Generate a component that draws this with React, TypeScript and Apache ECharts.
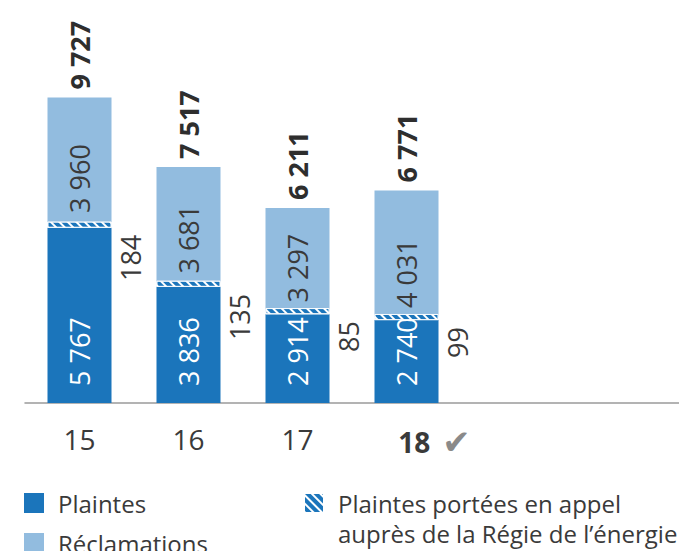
import React, { useEffect, useRef } from "react";
import * as echarts from "echarts";

const categories = ["15", "16", "17", "18"];
const plaintes = [5767, 3836, 2914, 2740];
const appels = [184, 135, 85, 99];
const reclamations = [3960, 3681, 3297, 4031];
const totals = [9727, 7517, 6211, 6771];

const DARK = "#1b75bb";
const LIGHT = "#92bcdf";
const TEXT = "#3a3a3a";
const FONT = '"Open Sans", "Noto Sans", sans-serif';

const NAME_P = "Plaintes";
const NAME_A = "Plaintes portées en appel\nauprès de la Régie de l\u2019énergie";
const NAME_R = "Réclamations";

const fmt = (n: number) => String(n).replace(/\B(?=(\d{3})+(?!\d))/g, " ");

export default function App() {
  const ref = useRef<HTMLDivElement>(null);
  useEffect(() => {
    if (!ref.current) return;
    const chart = echarts.init(ref.current, null, { renderer: "svg" });
    const decal = {
      symbol: "rect",
      symbolSize: 1,
      color: "#ffffff",
      dashArrayX: [1, 0],
      dashArrayY: [1.6, 3.2],
      rotation: Math.PI / 4,
    };
    const baseLabel = {
      show: true,
      rotate: 90,
      fontFamily: FONT,
      fontSize: 27,
      align: "left",
      verticalAlign: "middle",
    };
    const legendBase = {
      icon: "rect",
      itemWidth: 20,
      itemHeight: 20,
      padding: 0,
      selectedMode: false,
      orient: "horizontal",
    };
    chart.setOption({
      animation: false,
      textStyle: { fontFamily: FONT },
      grid: { left: 25, width: 672, top: 89, bottom: 148, containLabel: false },
      legend: [
        {
          ...legendBase,
          data: [NAME_P],
          left: 24,
          top: 491,
          textStyle: { fontSize: 24, color: TEXT, fontFamily: FONT, padding: [0, 0, 0, 9] },
        },
        {
          ...legendBase,
          data: [NAME_R],
          left: 24,
          top: 531,
          textStyle: { fontSize: 24, color: TEXT, fontFamily: FONT, padding: [0, 0, 0, 9] },
        },
        {
          ...legendBase,
          data: [NAME_A],
          left: 303,
          top: 458,
          formatter: (name: string) => "\n" + name,
          textStyle: {
            fontSize: 24,
            color: TEXT,
            fontFamily: FONT,
            lineHeight: 30,
            padding: [0, 0, 0, 9],
          },
        },
      ],
      xAxis: {
        type: "category",
        data: [...categories, "", ""],
        axisLine: { show: true, lineStyle: { color: "#9a9a9a", width: 1.5 } },
        axisTick: { show: false },
        axisLabel: {
          margin: 22,
          fontSize: 28,
          color: TEXT,
          fontFamily: FONT,
          interval: 0,
          formatter: (v: string) => (v === "18" ? "{pad|}{b|18}{c|\u2714}" : v),
          rich: {
            pad: { width: 56 },
            b: { fontSize: 28, fontWeight: "bold", color: TEXT, fontFamily: FONT },
            c: { fontSize: 34, color: "#8a8a8a", fontFamily: "DejaVu Sans", padding: [0, 0, 0, 12] },
          },
        },
      },
      yAxis: { type: "value", min: 0, max: 10000, show: false },
      series: [
        {
          name: NAME_P,
          type: "bar",
          stack: "t",
          barWidth: 64,
          itemStyle: { color: DARK },
          data: plaintes.map((p, i) => p - appels[i]),
          label: {
            ...baseLabel,
            position: "insideBottom",
            distance: 17,
            color: "#ffffff",
            formatter: (p: any) => fmt(plaintes[p.dataIndex]),
          },
        },
        {
          name: NAME_A,
          type: "bar",
          stack: "t",
          barWidth: 64,
          barMinHeight: 6,
          z: 3,
          itemStyle: { color: DARK, decal, borderColor: "#ffffff", borderWidth: 0.8 },
          data: appels,
        },
        {
          name: NAME_R,
          type: "bar",
          stack: "t",
          barWidth: 64,
          itemStyle: { color: LIGHT },
          data: reclamations,
          label: {
            ...baseLabel,
            position: "insideBottom",
            distance: 9,
            color: TEXT,
            formatter: (p: any) => fmt(reclamations[p.dataIndex]),
          },
        },
        {
          name: "Appel",
          type: "scatter",
          symbolSize: 0,
          itemStyle: { color: "rgba(0,0,0,0)", opacity: 1 },
          data: plaintes.map((p, i) => p - appels[i]),
          z: 5,
          label: {
            ...baseLabel,
            position: "bottom",
            distance: 7,
            offset: [0, 51],
            align: "right",
            color: TEXT,
            opacity: 1,
            formatter: (p: any) => fmt(appels[p.dataIndex]),
          },
        },
        {
          name: "Total",
          type: "scatter",
          symbolSize: 0,
          itemStyle: { color: "rgba(0,0,0,0)", opacity: 1 },
          data: totals,
          z: 5,
          label: {
            ...baseLabel,
            position: "top",
            distance: 8,
            color: "#2e2e2e",
            opacity: 1,
            fontWeight: "bold",
            formatter: (p: any) => fmt(totals[p.dataIndex]),
          },
        },
      ],
    });
    return () => chart.dispose();
  }, []);
  return (
    <div
      ref={ref}
      style={{ position: "fixed", left: 0, top: 0, width: 679, height: 551, background: "#fff" }}
    />
  );
}
